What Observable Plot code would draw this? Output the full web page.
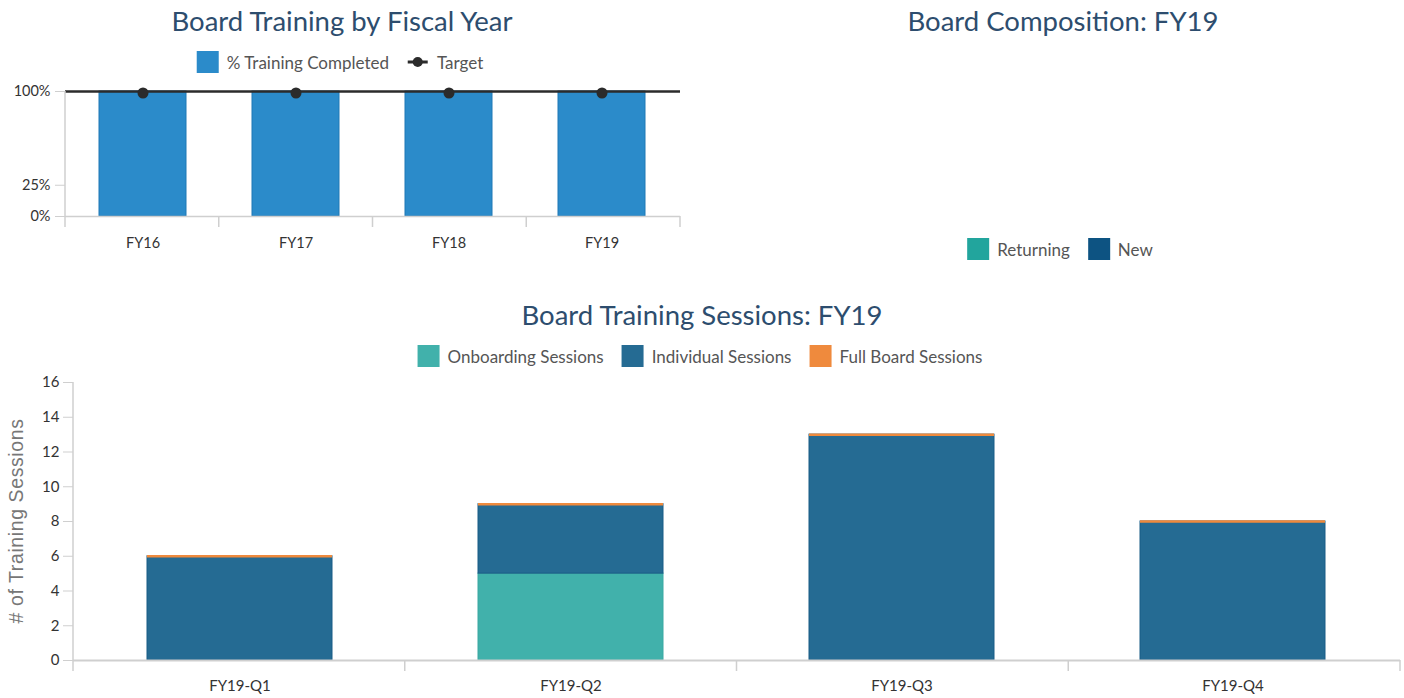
<!DOCTYPE html>
<html><head><meta charset="utf-8">
<script src="https://cdn.jsdelivr.net/npm/d3@7"></script>
<script src="https://cdn.jsdelivr.net/npm/@observablehq/plot@0.6"></script>
<style>
body{margin:0;width:1404px;height:698px;position:relative;background:#fff;font-family:Lato,sans-serif;overflow:hidden}
.title{position:absolute;transform:translate(-50%,-50%);white-space:nowrap;color:#2d4d6e;font-size:27.5px;font-family:Lato,sans-serif}
.legend{position:absolute;transform:translate(-50%,-50%);display:flex;align-items:center;white-space:nowrap}
.item{display:flex;align-items:center;margin:0 9px;font-size:17px;color:#555}
.sw{width:22px;height:22px;display:inline-block;margin-right:8px}
.panel{position:absolute;left:0}
</style></head>
<body>
<div id="root"></div>
<script>
// ---- data ----
const years = ["FY16", "FY17", "FY18", "FY19"];
const completed = [100, 100, 100, 100];
const target = [100, 100, 100, 100];
const pctTicks = [0, 25, 100];

const compositionSeries = ["Returning", "New"];

const quarters = ["FY19-Q1", "FY19-Q2", "FY19-Q3", "FY19-Q4"];
const sessionSeries = ["Onboarding Sessions", "Individual Sessions", "Full Board Sessions"];
const onboarding = [0, 5, 0, 0];
const individual = [6, 4, 13, 8];
const fullBoard = [0, 0, 0, 0];
const sessionTicks = [0, 2, 4, 6, 8, 10, 12, 14, 16];

// ---- styles ----
const C = {
  completed: "#2b8bca", completedStroke: "#1f79b6", target: "#2b2b2b",
  returning: "#22a59d", nw: "#0d5382",
  onboarding: "#41b1ab", individual: "#256b93", individualStroke: "#185d86", full: "#ef8a3d",
  axis: "#cfcfcf", tick: "#333"
};
const body = document.body;

function addTitle(text, x, y) {
  const d = document.createElement("div");
  d.className = "title"; d.textContent = text;
  d.style.left = x + "px"; d.style.top = y + "px";
  body.appendChild(d);
}
function addLegend(items, x, y) {
  const d = document.createElement("div");
  d.className = "legend"; d.style.left = x + "px"; d.style.top = y + "px";
  for (const it of items) {
    const s = document.createElement("span"); s.className = "item";
    if (it.line) {
      s.innerHTML = `<svg width="22" height="14" style="margin-right:8px"><line x1="1" x2="21" y1="7" y2="7" stroke="${it.color}" stroke-width="3"/><circle cx="11" cy="7" r="5" fill="${it.color}"/></svg>`;
    } else {
      s.innerHTML = `<span class="sw" style="background:${it.color}"></span>`;
    }
    s.appendChild(document.createTextNode(it.label));
    d.appendChild(s);
  }
  body.appendChild(d);
}
function place(svg, top) {
  const w = document.createElement("div"); w.className = "panel"; w.style.top = top + "px";
  w.appendChild(svg); body.appendChild(w);
}
function decorate(plot) {
  // category boundary ticks & vertical axis line
  const sx = plot.scale("x"), sy = plot.scale("y");
  const [a, b] = sx.range; const n = sx.domain.length; const step = (b - a) / n;
  const [y0, y1] = sy.range;
  const g = d3.select(plot).append("g").attr("stroke", C.axis).attr("stroke-width", 1.5);
  for (let i = 0; i <= n; i++) {
    g.append("line").attr("x1", a + i * step).attr("x2", a + i * step).attr("y1", y0).attr("y2", y0 + 11);
  }
  g.append("line").attr("x1", a).attr("x2", a).attr("y1", y0).attr("y2", y1);
}

// ---- Top-left: Board Training by Fiscal Year ----
addTitle("Board Training by Fiscal Year", 342, 20);
addLegend([{label: "% Training Completed", color: C.completed}, {label: "Target", color: C.target, line: true}], 340, 62);

const fy = years.map((y, i) => ({year: y, completed: completed[i], target: target[i]}));
const p1 = Plot.plot({
  width: 700, height: 180,
  marginTop: 11, marginBottom: 44, marginLeft: 65, marginRight: 20,
  style: {fontFamily: "Lato, sans-serif", fontSize: "14.5px", color: C.tick},
  x: {domain: years, paddingInner: 0.43, paddingOuter: 0.215, label: null},
  y: {domain: [0, 100], label: null},
  marks: [
    Plot.axisY({ticks: pctTicks, tickFormat: d => d + "%", tickSize: 10, tickPadding: 5, stroke: C.axis, label: null}),
    Plot.axisX({tickSize: 0, tickPadding: 21, label: null}),
    Plot.barY(fy, {x: "year", y: "completed", fill: C.completed, stroke: C.completedStroke, strokeWidth: 1}),
    Plot.ruleY([0], {stroke: C.axis, strokeWidth: 1.5}),
    Plot.ruleY([target[0]], {stroke: C.target, strokeWidth: 2.5}),
    Plot.dot(fy, {x: "year", y: "target", r: 5.5, fill: C.target, dy: 1.5})
  ]
});
decorate(p1);
place(p1, 80);

// ---- Top-right: Board Composition ----
addTitle("Board Composition: FY19", 1063, 20);
addLegend([{label: compositionSeries[0], color: C.returning}, {label: compositionSeries[1], color: C.nw}], 1060, 249);

// ---- Bottom: Board Training Sessions ----
addTitle("Board Training Sessions: FY19", 702, 314);
addLegend([
  {label: sessionSeries[0], color: C.onboarding},
  {label: sessionSeries[1], color: C.individual},
  {label: sessionSeries[2], color: C.full}
], 700, 356);

const rows = [];
quarters.forEach((q, i) => {
  rows.push({q, series: sessionSeries[0], v: onboarding[i]});
  rows.push({q, series: sessionSeries[1], v: individual[i]});
  rows.push({q, series: sessionSeries[2], v: fullBoard[i]});
});
const totals = quarters.map((q, i) => ({q, total: onboarding[i] + individual[i] + fullBoard[i]}));

const p2 = Plot.plot({
  width: 1404, height: 328,
  marginTop: 12, marginBottom: 38, marginLeft: 73, marginRight: 4,
  style: {fontFamily: "Lato, sans-serif", fontSize: "15px", color: C.tick},
  x: {domain: quarters, paddingInner: 0.44, paddingOuter: 0.22, label: null},
  y: {domain: [0, 16], label: null},
  color: {domain: sessionSeries, range: [C.onboarding, C.individual, C.full]},
  marks: [
    Plot.axisY({ticks: sessionTicks, tickSize: 10, tickPadding: 4, stroke: C.axis, label: null}),
    Plot.axisX({tickSize: 0, tickPadding: 20, label: null}),
    Plot.barY(rows, {x: "q", y: "v", fill: "series", stroke: d => d.series === sessionSeries[1] ? C.individualStroke : d.series === sessionSeries[0] ? "#3aa8a2" : C.full, strokeWidth: 1, order: sessionSeries}),
    Plot.tickY(totals, {x: "q", y: "total", stroke: C.full, strokeWidth: 2.5}),
    Plot.ruleY([0], {stroke: C.axis, strokeWidth: 2})
  ]
});
decorate(p2);
place(p2, 370);

// y-axis title
const yl = document.createElement("div");
yl.textContent = "# of Training Sessions";
Object.assign(yl.style, {position: "absolute", left: "16px", top: "521px", transform: "translate(-50%,-50%) rotate(-90deg)",
  whiteSpace: "nowrap", fontFamily: "'Liberation Sans', Arial, sans-serif", fontSize: "19.5px", color: "#777", letterSpacing: "0.6px"});
body.appendChild(yl);
</script>
</body></html>
